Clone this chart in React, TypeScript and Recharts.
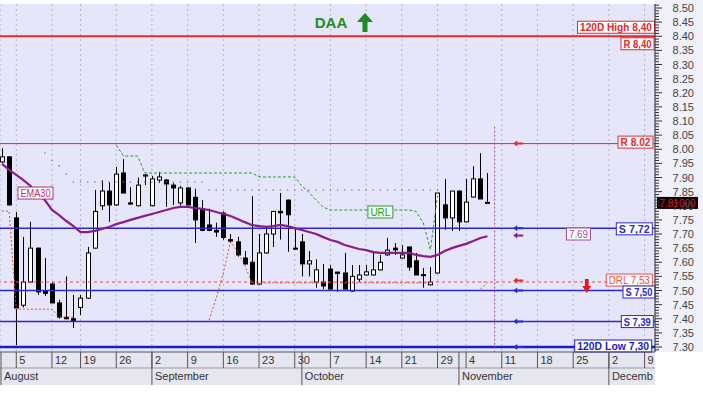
import React from "react";
import {
  ComposedChart,
  Bar,
  Line,
  XAxis,
  YAxis,
  CartesianGrid,
  ReferenceLine,
  ReferenceDot,
} from "recharts";

const FONT = "Arial, 'Liberation Sans', Helvetica, sans-serif";

// trading days, index 0 = Aug 1 ... index 68 = Nov 7
const openVals = [
  7.955, 7.973, 7.757, 7.448, 7.53, 7.65, 7.5, 7.523, 7.456, 7.405,
  7.4, 7.44, 7.473, 7.65, 7.8, 7.852, 7.803, 7.916, 7.81, 7.8,
  7.905, 7.8, 7.891, 7.891, 7.873, 7.81, 7.863, 7.83, 7.79, 7.732,
  7.713, 7.774, 7.68, 7.672, 7.615, 7.6, 7.523, 7.633, 7.7, 7.78,
  7.82, 7.65, 7.672, 7.594, 7.53, 7.53, 7.576, 7.565, 7.562, 7.498,
  7.54, 7.555, 7.555, 7.573, 7.626, 7.65, 7.615, 7.654, 7.605, 7.556,
  7.52, 7.562, 7.803, 7.757, 7.852, 7.743, 7.831, 7.895, 7.812,
];
const highVals = [
  8.004, 7.976, 7.778, 7.69, 7.743, 7.652, 7.615, 7.53, 7.467, 7.55,
  7.484, 7.484, 7.654, 7.856, 7.89, 7.884, 7.937, 7.965, 7.866, 7.9,
  7.912, 7.905, 7.92, 7.895, 7.88, 7.87, 7.866, 7.86, 7.82, 7.79,
  7.74, 7.78, 7.7, 7.69, 7.64, 7.834, 7.7, 7.725, 7.78, 7.845,
  7.822, 7.72, 7.7, 7.64, 7.61, 7.594, 7.59, 7.567, 7.633, 7.59,
  7.59, 7.59, 7.64, 7.626, 7.686, 7.668, 7.66, 7.656, 7.633, 7.58,
  7.583, 7.845, 7.895, 7.852, 7.854, 7.895, 7.94, 7.986, 7.916,
];
const lowVals = [
  7.951, 7.8, 7.307, 7.44, 7.528, 7.484, 7.48, 7.455, 7.4, 7.398,
  7.367, 7.413, 7.47, 7.648, 7.785, 7.743, 7.8, 7.845, 7.804, 7.798,
  7.873, 7.798, 7.88, 7.796, 7.803, 7.8, 7.8, 7.668, 7.71, 7.71,
  7.69, 7.68, 7.668, 7.62, 7.592, 7.52, 7.52, 7.63, 7.654, 7.68,
  7.637, 7.645, 7.55, 7.55, 7.51, 7.505, 7.505, 7.495, 7.505, 7.496,
  7.53, 7.553, 7.553, 7.571, 7.624, 7.626, 7.613, 7.57, 7.555, 7.51,
  7.518, 7.56, 7.715, 7.711, 7.711, 7.741, 7.829, 7.824, 7.808,
];
const closeVals = [
  7.973, 7.803, 7.438, 7.53, 7.65, 7.495, 7.49, 7.456, 7.406, 7.4,
  7.392, 7.473, 7.633, 7.78, 7.852, 7.803, 7.912, 7.845, 7.806, 7.873,
  7.909, 7.895, 7.902, 7.877, 7.863, 7.863, 7.803, 7.75, 7.713, 7.713,
  7.707, 7.688, 7.675, 7.626, 7.594, 7.523, 7.633, 7.7, 7.78, 7.775,
  7.768, 7.647, 7.594, 7.605, 7.573, 7.516, 7.505, 7.56, 7.505, 7.55,
  7.555, 7.566, 7.573, 7.6, 7.643, 7.644, 7.626, 7.583, 7.555, 7.553,
  7.53, 7.845, 7.757, 7.852, 7.743, 7.813, 7.895, 7.824, 7.81,
];
const ema30 = [
  7.948, 7.927, 7.909, 7.891, 7.87, 7.842, 7.82, 7.785, 7.767, 7.746,
  7.728, 7.707, 7.707, 7.711, 7.718, 7.725, 7.735, 7.742, 7.75, 7.757,
  7.764, 7.771, 7.778, 7.785, 7.792, 7.796, 7.796, 7.792, 7.789, 7.785,
  7.778, 7.771, 7.764, 7.753, 7.742, 7.732, 7.728, 7.725, 7.728, 7.732,
  7.728, 7.721, 7.714, 7.707, 7.7, 7.689, 7.679, 7.672, 7.661, 7.654,
  7.647, 7.643, 7.636, 7.633, 7.633, 7.633, 7.633, 7.633, 7.626, 7.622,
  7.619, 7.626, 7.64, 7.65, 7.658, 7.665, 7.675, 7.686, 7.692,
];
const urlVals = [
  null, null, null, null, null, null, null, null, null, null,
  null, null, null, null, null, null, 8.015, 7.976, 7.976, 7.976,
  7.916, 7.916, 7.916, 7.916, 7.916, 7.916, 7.916, 7.916, 7.916, 7.916,
  7.916, 7.916, 7.916, 7.916, 7.916, 7.916, 7.902, 7.902, 7.902, 7.902,
  7.902, 7.902, 7.87, 7.848, 7.82, 7.795, 7.785, 7.785, 7.785, 7.785,
  7.785, 7.785, 7.785, 7.785, 7.785, 7.785, 7.785, 7.785, 7.78, 7.74,
  7.645, 7.835, null, null, null, null, null, null, null,
];
const drlVals = [
  7.781, 7.781, 7.434, 7.434, 7.434, 7.434, 7.434, 7.434, 7.406, 7.406,
  7.406, null, null, null, null, null, null, null, null, null,
  null, null, null, null, null, null, null, null, null, 7.395,
  7.473, 7.562, 7.672, 7.636, 7.59, 7.527, 7.527, 7.527, 7.527, 7.527,
  7.527, 7.527, 7.527, 7.527, 7.527, 7.527, 7.527, 7.527, 7.527, 7.527,
  7.527, 7.527, 7.527, 7.527, 7.527, 7.527, 7.527, 7.527, 7.527, 7.527,
  7.527, null, null, null, null, null, null, 7.505, 7.527,
];
const stopVals = [
  null, null, null, null, null, null, 7.987, 7.96, 7.941, 7.912,
  7.884, 7.884, 7.884, 7.884, 7.884, 7.884, 7.884, 7.884, 7.884, 7.884,
  7.884, 7.884, 7.884, 7.884, 7.884, 7.884, 7.884, 7.884, 7.884, 7.856,
  7.856, 7.856, 7.856, 7.856, 7.856, 7.856, 7.856, 7.856, 7.856, 7.856,
  7.856, 7.856, 7.856, 7.856, 7.856, 7.856, 7.856, 7.856, 7.856, 7.856,
  7.856, 7.856, 7.856, 7.856, 7.856, 7.856, 7.856, 7.856, 7.856, 7.856,
  7.856, 7.856, null, null, null, null, null, null, null,
];

const dayTicks = [2, 7, 11, 16, 21, 26, 31, 36, 41, 46, 51, 56, 61, 65, 70, 75, 80, 85, 90];
const dayLabels = ["5", "12", "19", "26", "2", "9", "16", "23", "30", "7", "14", "21", "29", "4", "11", "18", "25", "2", "9"];
const monthTicks = [-0.14, 21, 42, 64, 85];
const monthLabels = ["August", "September", "October", "November", "December"];
const priceTicks = [
  7.3, 7.35, 7.4, 7.45, 7.5, 7.55, 7.6, 7.65, 7.7, 7.75, 7.8, 7.85, 7.9,
  7.95, 8.0, 8.05, 8.1, 8.15, 8.2, 8.25, 8.3, 8.35, 8.4, 8.45, 8.5,
];

const levelValues = [8.4, 8.4, 8.02, 7.72, 7.53, 7.5, 7.39, 7.3];
const levelLabels = ["120D High 8,40", "R 8,40", "R 8.02", "S 7,72", "DRL 7,53", "S 7,50", "S 7,39", "120D Low 7,30"];
const arrowValues = [8.02, 7.72, 7.695, 7.535, 7.5, 7.39, 7.3];
const lastPrice = 7.81;
const lastEma = 7.69;

const RED = "#e8262b";
const BLUE = "#2a2acb";
const PURPLE = "#8b1c8b";
const GREEN = "#2e9a2e";

// per level: line colour, width, dash, tag width, tag offset, inset from right
const levelStyles = [
  { color: RED, width: 2, dash: undefined, w: 77, dy: -9, inset: 0.5, line: true, bold: true },
  { color: RED, width: 0, dash: undefined, w: 33, dy: 7.5, inset: 1, line: false, bold: true },
  { color: RED, width: 1, dash: undefined, w: 35, dy: -1.5, inset: 2, line: true, bold: true },
  { color: BLUE, width: 1.5, dash: undefined, w: 36, dy: 0.5, inset: 2.7, line: true, bold: true },
  { color: "#ea4a4a", width: 1, dash: "3 3", w: 46, dy: -2, inset: 2.7, line: true, bold: false },
  { color: BLUE, width: 1.5, dash: undefined, w: 32, dy: 1.5, inset: 0, line: true, bold: true },
  { color: BLUE, width: 1.5, dash: undefined, w: 32, dy: 0, inset: 1.7, line: true, bold: true },
  { color: "#1c1cc0", width: 2.5, dash: undefined, w: 77, dy: -1, inset: 3.3, line: true, bold: true },
];
const arrowColors = [RED, BLUE, PURPLE, RED, BLUE, BLUE, BLUE];

const X_MIN = -0.28;
const X_MAX = 91.46;
const Y_MIN = 7.2823;
const Y_MAX = 8.5142;
const ARROW_X = 72.3;

const rows = openVals.map((o, i) => ({
  i,
  open: o,
  close: closeVals[i],
  range: [lowVals[i], highVals[i]],
  ema: ema30[i],
  url: urlVals[i],
  drl: drlVals[i],
  stop: stopVals[i],
}));

const minorTicks: number[] = [];
for (let c = 729; c <= 851; c++) minorTicks.push(c / 100);

const Candle = (p: any) => {
  const { x, y, width, height, payload } = p;
  if (!payload || height == null) return null;
  const [lo, hi] = payload.range;
  const k = height / (hi - lo);
  const py = (v: number) => y + (hi - v) * k;
  const cx = Math.round(x + width / 2) + 0.5;
  const up = payload.close >= payload.open;
  const top = py(Math.max(payload.open, payload.close));
  const bot = py(Math.min(payload.open, payload.close));
  return (
    <g>
      <line x1={cx} x2={cx} y1={y} y2={y + height} stroke="#000" strokeWidth={1} />
      <rect
        x={cx - 2}
        y={top}
        width={4}
        height={Math.max(bot - top, 1)}
        fill={up ? "#fff" : "#000"}
        stroke="#000"
        strokeWidth={1}
      />
    </g>
  );
};

const DayTick = ({ x, y, payload }: any) => {
  const k = dayTicks.indexOf(payload.value);
  return (
    <g>
      <line x1={x} x2={x} y1={y} y2={y + 16} stroke="#555" />
      <text x={x + 3} y={y + 12} fontFamily={FONT} fontSize={11} fill="#333">
        {dayLabels[k]}
      </text>
    </g>
  );
};

const MonthTick = ({ x, y, payload }: any) => {
  const k = monthTicks.indexOf(payload.value);
  return (
    <g>
      <defs>
        <clipPath id={"mclip" + k}>
          <rect x={0} y={0} width={653} height={393} />
        </clipPath>
      </defs>
      <line x1={x} x2={x} y1={y - 16} y2={y + 17} stroke="#555" />
      <text x={x + 3} y={y + 12} fontFamily={FONT} fontSize={11} fill="#333" clipPath={`url(#mclip${k})`}>
        {monthLabels[k]}
      </text>
    </g>
  );
};

const PriceTick = ({ x, y, payload }: any) => {
  const v = payload.value;
  const major = priceTicks.some((t) => Math.abs(t - v) < 1e-6);
  return (
    <g>
      <line x1={x} x2={x + (major ? 7 : 4)} y1={y} y2={y} stroke="#333" />
      {major && (
        <text x={x + 39} y={y + 4} textAnchor="end" fontFamily={FONT} fontSize={11} fill="#444">
          {v.toFixed(2)}
        </text>
      )}
    </g>
  );
};

const tagLabel = (text: string, s: any) => (p: any) => {
  const vb = p.viewBox || {};
  const right = vb.x + Math.abs(vb.width) - s.inset;
  const cy = vb.y + s.dy;
  return (
    <g>
      <rect x={right - s.w} y={cy - 6} width={s.w} height={12} fill="#fff" stroke={s.color} />
      <text
        x={right - s.w / 2}
        y={cy + 4}
        textAnchor="middle"
        fontFamily={FONT}
        fontSize={11}
        fontWeight={s.bold ? "bold" : "normal"}
        fill={s.color}
        textLength={s.w - 5}
        lengthAdjust="spacingAndGlyphs"
      >
        {text}
      </text>
    </g>
  );
};

const priceTag = (p: any) => {
  const vb = p.viewBox || {};
  const left = vb.x + Math.abs(vb.width) + 2;
  return (
    <g>
      <rect x={left} y={vb.y - 6} width={41} height={12} fill="#0d0000" />
      <text
        x={left + 20.5}
        y={vb.y + 4}
        textAnchor="middle"
        fontFamily={FONT}
        fontSize={10}
        fill="#e01818"
        textLength={36}
        lengthAdjust="spacingAndGlyphs"
      >
        {lastPrice.toFixed(5)}
      </text>
    </g>
  );
};

const leftArrow = (color: string) => (p: any) => {
  const { cx, cy } = p;
  return (
    <path
      d={`M${cx - 5},${cy} L${cx - 1},${cy - 3} L${cx - 1},${cy - 1} L${cx + 5},${cy - 1} L${cx + 5},${cy + 1} L${cx - 1},${cy + 1} L${cx - 1},${cy + 3} Z`}
      fill={color}
    />
  );
};

const downArrow = (p: any) => {
  const { cx, cy } = p;
  return (
    <path
      d={`M${cx - 1.8},${cy - 7} L${cx + 1.8},${cy - 7} L${cx + 1.8},${cy} L${cx + 4.5},${cy} L${cx},${cy + 7} L${cx - 4.5},${cy} L${cx - 1.8},${cy} Z`}
      fill="#e8161b"
    />
  );
};

const boxText = (text: string, color: string, w: number, fill: string) => (p: any) => {
  const { cx, cy } = p;
  return (
    <g>
      <rect x={cx - w / 2} y={cy - 6} width={w} height={12} fill={fill} stroke={color} />
      <text
        x={cx}
        y={cy + 4}
        textAnchor="middle"
        fontFamily={FONT}
        fontSize={11}
        fill={color}
        textLength={w - 5}
        lengthAdjust="spacingAndGlyphs"
      >
        {text}
      </text>
    </g>
  );
};

const titleMark = (p: any) => {
  const { cx, cy } = p;
  const ax = cx + 34;
  return (
    <g>
      <text x={cx} y={cy} textAnchor="middle" fontFamily={FONT} fontSize={15} fontWeight="bold" fill="#1e8c1e">
        DAA
      </text>
      <path
        d={`M${ax},${cy - 15} L${ax + 8},${cy - 6} L${ax + 2.5},${cy - 6} L${ax + 2.5},${cy + 4} L${ax - 2.5},${cy + 4} L${ax - 2.5},${cy - 6} L${ax - 8},${cy - 6} Z`}
        fill="#1e8c1e"
      />
    </g>
  );
};

export default function App() {
  return (
    <div style={{ position: "absolute", left: 0, top: 0, width: 703, height: 393, background: "#fff" }}>
      <div style={{ position: "absolute", left: 0, top: 352, width: 655, height: 33, background: "#e6e6f0" }} />
      <div style={{ position: "absolute", left: 655, top: 0, width: 48, height: 352, background: "#f0f0f8" }} />
      <ComposedChart
        width={703}
        height={393}
        data={rows}
        margin={{ top: 4, right: 0, bottom: 8, left: 0 }}
      >
        <CartesianGrid horizontal={false} stroke="#b4b4c4" strokeDasharray="2 3" fill="#e6e6fa" />
        <XAxis
          dataKey="i"
          type="number"
          domain={[X_MIN, X_MAX]}
          allowDataOverflow
          ticks={dayTicks}
          interval={0}
          tickSize={0}
          tickMargin={0}
          height={16}
          axisLine={{ stroke: "#555" }}
          tick={DayTick}
        />
        <XAxis
          xAxisId="m"
          dataKey="i"
          type="number"
          domain={[X_MIN, X_MAX]}
          allowDataOverflow
          ticks={monthTicks}
          interval={0}
          tickSize={0}
          tickMargin={0}
          height={17}
          axisLine={{ stroke: "#999" }}
          tick={MonthTick}
        />
        <YAxis
          orientation="right"
          type="number"
          domain={[Y_MIN, Y_MAX]}
          allowDataOverflow
          ticks={minorTicks}
          interval={0}
          width={48}
          tickSize={0}
          tickMargin={0}
          axisLine={{ stroke: "#333" }}
          tick={PriceTick}
        />

        {levelValues.map((v, k) => {
          const s = levelStyles[k];
          return (
            <ReferenceLine
              key={"lv" + k}
              y={v}
              stroke={s.line ? s.color : "none"}
              strokeWidth={s.width}
              strokeDasharray={s.dash}
              label={tagLabel(levelLabels[k], s)}
            />
          );
        })}
        <ReferenceLine y={lastPrice} stroke="none" label={priceTag} />
        <ReferenceLine
          segment={[{ x: 69, y: 8.08 }, { x: 69, y: Y_MIN }]}
          stroke="#a040a0"
          strokeDasharray="2 2"
        />

        <Line dataKey="stop" stroke="none" dot={{ r: 0.8, fill: "#7a7a8a", stroke: "none" }} isAnimationActive={false} />
        <Bar dataKey="range" barSize={5} shape={Candle} isAnimationActive={false} />
        <Line dataKey="url" stroke={GREEN} strokeWidth={1} strokeDasharray="3 2" dot={false} isAnimationActive={false} />
        <Line dataKey="drl" stroke="#e04a4a" strokeWidth={1} strokeDasharray="2 2" dot={false} isAnimationActive={false} />
        <Line dataKey="ema" stroke={PURPLE} strokeWidth={2.2} dot={false} isAnimationActive={false} />

        {arrowValues.map((v, k) => (
          <ReferenceDot key={"ar" + k} x={ARROW_X} y={v} r={0} shape={leftArrow(arrowColors[k])} ifOverflow="visible" />
        ))}
        <ReferenceDot x={81.9} y={7.516} r={0} shape={downArrow} />
        <ReferenceDot x={80.74} y={7.70} r={0} shape={boxText(lastEma.toFixed(2), "#a04aa0", 24, "#fff")} />
        <ReferenceDot x={4.69} y={7.845} r={0} shape={boxText("EMA30", "#b0307a", 35, "#fff")} />
        <ReferenceDot x={53.0} y={7.778} r={0} shape={boxText("URL", GREEN, 25, "#f2fff2")} />
        <ReferenceDot x={46.08} y={8.429} r={0} shape={titleMark} />
      </ComposedChart>
    </div>
  );
}
